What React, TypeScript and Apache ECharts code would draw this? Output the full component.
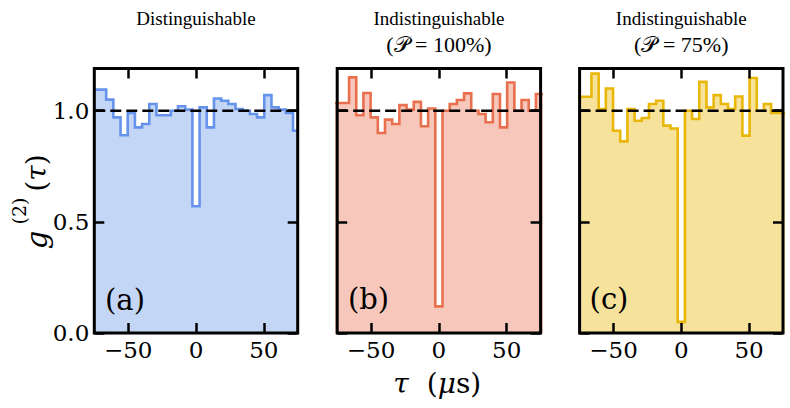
import React, { useEffect, useRef } from "react";
import * as echarts from "echarts";

// bin centres (µs) of the coincidence histogram
const tauCenters = [
  -74.2, -68.9, -63.6, -58.3, -53.0, -47.7, -42.4, -37.1, -31.8, -26.5, -21.2, -15.9, -10.6, -5.3,
  0,
  5.3, 10.6, 15.9, 21.2, 26.5, 31.8, 37.1, 42.4, 47.7, 53.0, 58.3, 63.6, 68.9, 74.2,
];
const BIN_WIDTH = 5.3;

const g2Distinguishable = [
  1.095, 1.095, 1.05, 0.97, 0.89, 0.99, 0.925, 0.94, 1.03, 0.98, 0.98, 1.0, 1.02, 1.005,
  0.57,
  1.015, 0.925, 1.055, 1.045, 1.03, 1.008, 1.0, 0.985, 0.97, 1.07, 1.015, 1.005, 0.99, 0.91,
];
const g2Indist100 = [
  1.035, 1.035, 1.15, 0.98, 1.08, 0.97, 0.9, 0.96, 0.94, 1.025, 1.005, 1.04, 0.93, 1.01,
  0.12,
  1.0, 1.03, 1.048, 1.078, 1.0, 0.985, 0.948, 1.075, 0.925, 1.127, 1.0, 1.048, 1.0, 1.075,
];
const g2Indist75 = [
  1.063, 1.063, 1.167, 1.008, 1.1, 0.91, 0.862, 1.008, 0.955, 0.967, 1.03, 1.045, 0.933, 0.92,
  0.05,
  1.0, 0.963, 1.13, 1.015, 1.07, 1.03, 1.008, 1.064, 0.888, 1.147, 1.0, 1.03, 0.99, 0.99,
];

const xTicks = [-50, 0, 50];
const yTicks = [0, 0.5, 1.0];
const X_MIN = -75;
const X_MAX = 75;
const Y_MAX = 1.19;
const REFERENCE_LEVEL = 1.0;

const panelTitles = [
  ["Distinguishable"],
  ["Indistinguishable", "(𝒫 = 100%)"],
  ["Indistinguishable", "(𝒫 = 75%)"],
];
const panelTags = ["(a)", "(b)", "(c)"];
const panelData = [g2Distinguishable, g2Indist100, g2Indist75];
const lineColors = ["#6593ec", "#e9704e", "#e9b708"];
const fillColors = ["#c4d6f5", "#f6c7ba", "#f7e29c"];

const FONT = "'DejaVu Serif', 'Liberation Serif', serif";
const TITLE_FONT = "'Liberation Serif', 'DejaVu Serif', serif";
const gridLefts = [94.3, 337.2, 579.6];
const GRID_TOP = 68.5;
const GRID_W = 203.4;
const GRID_H = 264.5;
const TICK_LEN = 10;

function fmtX(v: number) {
  return v < 0 ? "\u2212" + Math.abs(v) : String(v);
}

export default function App() {
  const ref = useRef<HTMLDivElement>(null);

  useEffect(() => {
    document.body.style.margin = "0";
    if (!ref.current) return;
    const chart = echarts.init(ref.current, undefined, { renderer: "svg" });

    const grids = gridLefts.map((left) => ({
      left,
      top: GRID_TOP,
      width: GRID_W,
      height: GRID_H,
      show: true,
      borderColor: "#000",
      borderWidth: 3,
      backgroundColor: "transparent",
      z: 5,
    }));

    const tickStyle = { color: "#000", width: 2.5 };
    const xAxes: any[] = [];
    const yAxes: any[] = [];
    // per grid i: x axes 4i (bottom), 4i+1 (top), 4i+2 / 4i+3 hidden helpers whose zero sits at the left / right edge
    //             y axes 4i (left), 4i+1 (right), 4i+2 hidden helper whose zero sits at the top edge, 4i+3 spare
    gridLefts.forEach((_, i) => {
      const base = 4 * i;
      const visibleX = (pos: string, zeroOf: number, labels: boolean) => ({
        type: "value",
        gridIndex: i,
        min: X_MIN,
        max: X_MAX,
        position: pos,
        axisLine: { show: false, onZero: true, onZeroAxisIndex: zeroOf },
        splitLine: { show: false },
        axisTick: { show: true, inside: true, length: TICK_LEN, lineStyle: tickStyle, customValues: xTicks },
        axisLabel: {
          show: labels,
          customValues: xTicks,
          formatter: (v: number) => fmtX(v),
          margin: 5,
          color: "#000",
          fontFamily: FONT,
          fontSize: 23,
        },
        z: 6,
      });
      const visibleY = (pos: string, zeroOf: number, labels: boolean) => ({
        type: "value",
        gridIndex: i,
        min: 0,
        max: Y_MAX,
        position: pos,
        axisLine: { show: false, onZero: true, onZeroAxisIndex: zeroOf },
        splitLine: { show: false },
        axisTick: { show: true, inside: true, length: TICK_LEN, lineStyle: tickStyle, customValues: yTicks },
        axisLabel: {
          show: labels,
          customValues: yTicks,
          formatter: (v: number) => v.toFixed(1),
          margin: 5,
          color: "#000",
          fontFamily: FONT,
          fontSize: 23,
        },
        z: 6,
      });
      const helper = (min: number, max: number) => ({
        type: "value",
        gridIndex: i,
        min,
        max,
        show: false,
        axisLine: { show: false, onZero: false },
        axisTick: { show: false },
        axisLabel: { show: false },
        splitLine: { show: false },
      });
      xAxes.push(visibleX("bottom", base, true));
      xAxes.push(visibleX("top", base + 2, false));
      xAxes.push(helper(0, X_MAX - X_MIN));
      xAxes.push(helper(X_MIN - X_MAX, 0));
      yAxes.push(visibleY("left", base + 2, i === 0));
      yAxes.push(visibleY("right", base + 3, false));
      yAxes.push(helper(-Y_MAX, 0));
      yAxes.push(helper(0, Y_MAX));
    });

    const series: any[] = [];
    panelData.forEach((vals, i) => {
      const pts = tauCenters.map((c, j) => [c - BIN_WIDTH / 2, vals[j]]);
      const last = tauCenters.length - 1;
      pts.push([tauCenters[last] + BIN_WIDTH / 2, vals[last]]);
      series.push({
        type: "line",
        xAxisIndex: 4 * i,
        yAxisIndex: 4 * i,
        data: pts,
        step: "end",
        symbol: "none",
        clip: true,
        lineStyle: { color: lineColors[i], width: 2.6, join: "miter" },
        areaStyle: { color: fillColors[i], opacity: 1, origin: "start" },
        z: 2,
      });
      series.push({
        type: "line",
        xAxisIndex: 4 * i,
        yAxisIndex: 4 * i,
        data: [
          [X_MIN, REFERENCE_LEVEL],
          [X_MAX, REFERENCE_LEVEL],
        ],
        symbol: "none",
        lineStyle: { color: "#000", width: 2.6, type: [11, 5] },
        z: 3,
      });
    });

    const elements: any[] = [];
    gridLefts.forEach((left, i) => {
      const cx = left + GRID_W / 2;
      panelTitles[i].forEach((t, k) => {
        elements.push({
          type: "text",
          x: cx,
          y: k === 0 ? 18.5 : 44,
          z: 20,
          style: {
            text: t,
            fontFamily: TITLE_FONT,
            fontSize: k === 0 ? 19 : 22,
            fill: "#000",
            align: "center",
            verticalAlign: "middle",
          },
        });
      });
    });
    const tagPos = [
      [125, 300],
      [368.5, 298.5],
      [609, 298.5],
    ];
    panelTags.forEach((t, i) => {
      elements.push({
        type: "text",
        x: tagPos[i][0],
        y: tagPos[i][1],
        z: 20,
        style: { text: t, fontFamily: FONT, fontSize: 29, fill: "#000", align: "center", verticalAlign: "middle" },
      });
    });
    // y-axis title g^(2)(tau), rotated
    elements.push(
      {
        type: "text",
        x: 37,
        y: 240,
        rotation: Math.PI / 2,
        z: 20,
        style: { text: "g", fontFamily: FONT, fontStyle: "italic", fontSize: 29, fill: "#000", align: "center", verticalAlign: "middle" },
      },
      {
        type: "text",
        x: 19,
        y: 211,
        rotation: Math.PI / 2,
        z: 20,
        style: { text: "(2)", fontFamily: FONT, fontSize: 19, fill: "#000", align: "center", verticalAlign: "middle" },
      },
      {
        type: "text",
        x: 36,
        y: 173,
        rotation: Math.PI / 2,
        z: 20,
        style: {
          text: "{u|(}{i|τ}{u|)}",
          fontFamily: FONT,
          fontSize: 28,
          fill: "#000",
          align: "center",
          verticalAlign: "middle",
          rich: {
            u: { fontFamily: FONT, fontSize: 28, fill: "#000" },
            i: { fontFamily: FONT, fontSize: 28, fontStyle: "italic", fill: "#000" },
          },
        },
      }
    );
    // x-axis title tau (µs)
    elements.push(
      {
        type: "text",
        x: 401,
        y: 383,
        z: 20,
        style: { text: "τ", fontFamily: FONT, fontStyle: "italic", fontSize: 28, fill: "#000", align: "center", verticalAlign: "middle" },
      },
      {
        type: "text",
        x: 454,
        y: 383,
        z: 20,
        style: {
          text: "{u|(}{i|μ}{u|s)}",
          fontFamily: FONT,
          fontSize: 28,
          fill: "#000",
          align: "center",
          verticalAlign: "middle",
          rich: {
            u: { fontFamily: FONT, fontSize: 28, fill: "#000" },
            i: { fontFamily: FONT, fontSize: 28, fontStyle: "italic", fill: "#000" },
          },
        },
      }
    );

    chart.setOption({
      animation: false,
      grid: grids,
      xAxis: xAxes,
      yAxis: yAxes,
      series,
      graphic: { elements },
    });

    return () => chart.dispose();
  }, []);

  return <div ref={ref} style={{ width: 790, height: 408 }} />;
}
